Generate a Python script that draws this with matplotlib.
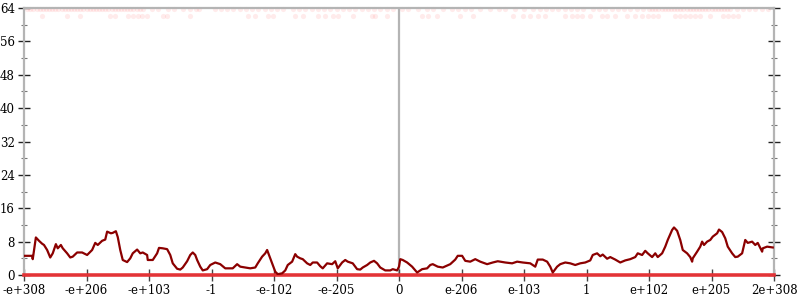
import matplotlib.pyplot as plt
from matplotlib.ticker import MultipleLocator

# ======================================================
# DATA
# ======================================================
TICK_LABELS = ["-e+308", "-e+206", "-e+103", "-1", "-e-102", "-e-205", "0",
               "e-206", "e-103", "1", "e+102", "e+205", "2e+308"]

# position along the ordered float axis (tick index units) and value
POS = [
    0.00, 0.13, 0.14, 0.19, 0.24, 0.29, 0.32, 0.37, 0.42, 0.46, 0.51, 0.54, 0.59,
    0.62, 0.69, 0.74, 0.78, 0.85, 0.93, 1.01, 1.09, 1.14, 1.18, 1.25, 1.30, 1.33,
    1.39, 1.42, 1.47, 1.50, 1.54, 1.58, 1.65, 1.70, 1.74, 1.81, 1.86, 1.90, 1.97,
    1.98, 2.06, 2.13, 2.16, 2.22, 2.29, 2.34, 2.38, 2.45, 2.50, 2.54, 2.61, 2.66,
    2.70, 2.74, 2.77, 2.82, 2.86, 2.93, 2.98, 3.06, 3.14, 3.22, 3.34, 3.41, 3.46,
    3.54, 3.62, 3.70, 3.74, 3.81, 3.86, 3.89, 3.92, 3.97, 4.02, 4.06, 4.13, 4.18,
    4.22, 4.29, 4.34, 4.37, 4.42, 4.46, 4.53, 4.58, 4.62, 4.69, 4.74, 4.78, 4.85,
    4.93, 4.98, 5.02, 5.09, 5.14, 5.18, 5.26, 5.33, 5.38, 5.42, 5.49, 5.54, 5.60,
    5.65, 5.70, 5.78, 5.86, 5.90, 5.97, 6.00,
    6.02, 6.06, 6.13, 6.21, 6.29, 6.37, 6.45, 6.50, 6.54, 6.62, 6.70, 6.82, 6.90,
    6.94, 7.01, 7.06, 7.14, 7.22, 7.30, 7.41, 7.50, 7.58, 7.70, 7.81, 7.89, 7.98,
    8.10, 8.18, 8.22, 8.30, 8.37, 8.42, 8.46, 8.53, 8.58, 8.66, 8.74, 8.82, 8.90,
    8.98, 9.06, 9.10, 9.17, 9.22, 9.26, 9.33, 9.38, 9.46, 9.54, 9.62, 9.70, 9.78,
    9.82, 9.89, 9.94, 9.98, 10.05, 10.10, 10.14, 10.21, 10.26, 10.30, 10.37,
    10.40, 10.45, 10.50, 10.54, 10.61, 10.66, 10.69, 10.70, 10.77, 10.82, 10.85,
    10.88, 10.93, 10.98, 11.02, 11.09, 11.12, 11.17, 11.22, 11.26, 11.33, 11.38,
    11.42, 11.49, 11.54, 11.58, 11.65, 11.70, 11.74, 11.81, 11.82, 11.89, 11.98,
]
VALUES = [
    4.6, 4.6, 3.8, 9.0, 8.2, 7.5, 7.2, 6.0, 4.2, 5.2, 7.4, 6.4, 7.2,
    6.4, 5.2, 4.2, 4.4, 5.4, 5.4, 4.8, 6.0, 7.7, 7.2, 8.2, 8.5, 10.4,
    10.0, 10.1, 10.5, 9.1, 6.0, 3.6, 3.1, 4.0, 5.2, 6.1, 5.2, 5.4, 4.8,
    3.6, 3.6, 5.2, 6.5, 6.4, 6.2, 4.8, 2.8, 1.5, 1.3, 1.8, 3.3, 4.8,
    5.4, 4.8, 3.6, 2.0, 1.1, 1.4, 2.4, 3.0, 2.6, 1.6, 1.6, 2.6, 2.0,
    1.8, 1.6, 1.8, 2.8, 4.4, 5.2, 6.0, 4.8, 2.8, 0.8, 0.2, 0.4, 1.1,
    2.4, 3.2, 5.0, 4.4, 4.0, 3.8, 2.8, 2.4, 3.0, 3.0, 2.1, 1.6, 2.8,
    2.6, 3.3, 1.6, 3.0, 3.6, 3.2, 2.8, 1.4, 1.3, 1.8, 2.4, 3.0, 3.4,
    2.8, 1.8, 1.1, 1.1, 1.4, 1.1, 2.0,
    3.8, 3.6, 3.0, 2.0, 0.6, 1.4, 1.6, 2.4, 2.6, 2.0, 1.8, 2.6, 3.7,
    4.6, 4.6, 3.4, 3.2, 3.8, 3.2, 2.6, 3.0, 3.3, 3.0, 2.8, 3.2, 3.0,
    2.8, 2.0, 3.7, 3.7, 3.2, 2.0, 0.6, 2.0, 2.6, 3.0, 2.8, 2.4, 2.8,
    3.0, 3.5, 4.8, 5.2, 4.5, 4.9, 3.9, 4.3, 3.7, 3.0, 3.5, 3.8, 4.3,
    5.2, 4.8, 5.8, 5.2, 4.3, 5.2, 4.3, 5.2, 6.8, 8.4, 10.8,
    11.4, 10.6, 8.4, 6.0, 5.2, 4.3, 3.2, 4.0, 5.6, 6.8, 8.0,
    7.2, 8.0, 8.4, 9.2, 10.0, 10.9, 10.3, 8.8, 6.8, 5.2, 4.3,
    4.4, 5.2, 8.4, 7.7, 8.0, 7.2, 7.7, 5.6, 6.4, 6.8, 6.6,
]

# faint outlier dots near the top
TOP_ROW = [
    0.05, 0.10, 0.15, 0.20, 0.25, 0.30, 0.35, 0.40, 0.45, 0.50, 0.55, 0.60, 0.65,
    0.70, 0.75, 0.80, 0.85, 0.90, 0.95, 1.00, 1.05, 1.10, 1.15, 1.20, 1.25, 1.30,
    1.35, 1.40, 1.45, 1.50, 1.55, 1.60, 1.65, 1.70, 1.75, 1.80, 1.85, 1.90, 2.05,
    2.15, 2.30, 2.40, 2.55, 2.65, 2.75, 2.80, 3.05, 3.15, 3.25, 3.35, 3.45, 3.55,
    3.65, 3.75, 3.85, 3.95, 4.05, 4.15, 4.30, 4.40, 4.50, 4.60, 4.70, 4.80, 4.90,
    5.00, 5.10, 5.20, 5.30, 5.40, 5.50, 5.60, 5.70, 5.80, 5.90,
    6.05, 6.15, 6.30, 6.45, 6.55, 6.70, 6.85, 6.95, 7.05, 7.15, 7.30, 7.45, 7.60,
    7.70, 7.85, 8.00, 8.15, 8.25, 8.35, 8.45, 8.55, 8.65, 8.75, 8.85, 8.95, 9.10,
    9.20, 9.30, 9.40, 9.50, 9.60, 9.70, 9.80, 9.90, 10.00, 10.05, 10.10, 10.15,
    10.20, 10.25, 10.30, 10.35, 10.40, 10.45, 10.50, 10.55, 10.60, 10.65, 10.70,
    10.75, 10.80, 10.85, 10.90, 10.95, 11.00, 11.05, 11.10, 11.15, 11.20, 11.25,
    11.30, 11.40, 11.50, 11.60, 11.70, 11.80, 11.90,
]
SECOND_ROW = [
    0.28, 0.68, 0.90, 1.38, 1.46, 1.67, 1.75, 1.83, 1.89, 1.97, 2.23, 2.28, 2.66,
    3.59, 3.70, 3.91, 3.99, 4.33, 4.47, 4.71, 4.82, 4.95, 5.03, 5.27, 5.56, 5.62,
    5.80,
    6.37, 6.47, 6.61, 6.98, 7.19, 7.83, 7.99, 8.09, 8.23, 8.34, 8.66, 8.76, 8.84,
    8.92, 9.05, 9.24, 9.32, 9.45, 9.64, 9.78, 9.88, 9.99, 10.07, 10.15, 10.42,
    10.50, 10.58, 10.66, 10.74, 10.82, 10.98, 11.19, 11.27, 11.35, 11.43,
]
TOP_Y = 63.8
SECOND_Y = 62.2

# ======================================================
# FIGURE
# ======================================================
plt.rcParams["font.family"] = ["DejaVu Serif"]

fig = plt.figure(figsize=(8, 3), dpi=100)
ax = fig.add_axes([0.03, 0.0833, 0.9375, 0.89])

GRAY = "#b4b4b4"

# center divider
ax.axvline(6, color=GRAY, lw=1.6, zorder=1)

# zero line
ax.axhline(0, color="#e8262a", lw=2.6, alpha=0.9, zorder=3, clip_on=False)

ax.scatter(TOP_ROW, [TOP_Y] * len(TOP_ROW), s=14, color="#ff6060",
           alpha=0.12, linewidths=0, zorder=2, clip_on=False)
ax.scatter(SECOND_ROW, [SECOND_Y] * len(SECOND_ROW), s=14, color="#ff6060",
           alpha=0.12, linewidths=0, zorder=2, clip_on=False)

ax.plot(POS, VALUES, color="#8b0000", lw=1.6, zorder=4, solid_joinstyle="round")

ax.set_xlim(0, 12)
ax.set_ylim(0, 64)

ax.set_xticks(range(len(TICK_LABELS)))
ax.set_xticklabels(TICK_LABELS)
ax.yaxis.set_major_locator(MultipleLocator(8))
ax.yaxis.set_minor_locator(MultipleLocator(4))

for side in ["left", "right", "top", "bottom"]:
    ax.spines[side].set_color(GRAY)
    ax.spines[side].set_linewidth(1.6)

ax.tick_params(axis="both", which="major", direction="inout", length=9,
               width=1.0, color="#222222", labelsize=8.5, pad=2)
ax.tick_params(axis="y", which="both", right=True)
ax.tick_params(axis="y", which="minor", direction="inout", length=5,
               width=0.8, color="#777777")
ax.tick_params(axis="x", which="major", color="#444444")

fig.savefig("out.png", dpi=100)
plt.close(fig)
